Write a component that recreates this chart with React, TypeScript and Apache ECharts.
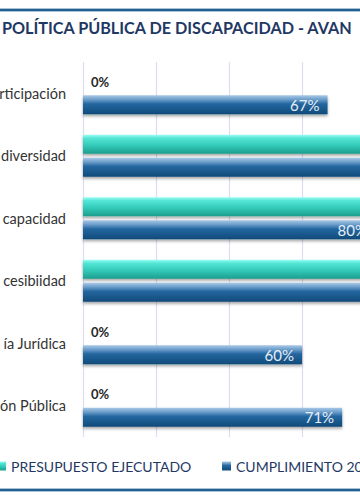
import React, { useEffect, useRef } from "react";
import * as echarts from "echarts";

const categories = ["rticipación", "diversidad", "capacidad", "cesibiidad", "ía Jurídica", "ón Pública"];
const presupuesto = [0, 95, 98, 92, 0, 0];
const cumplimiento = [67, 90, 80, 92, 60, 71];
const seriesNames = ["PRESUPUESTO EJECUTADO", "CUMPLIMIENTO 20"];
const titleText = "POLÍTICA PÚBLICA DE DISCAPACIDAD - AVAN";

const FONT = "Lato, 'Open Sans', sans-serif";
// labels beyond this value fall outside the visible frame (as in the reference crop)
const VISIBLE_LABEL_MAX = 80;

const tealGrad = new echarts.graphic.LinearGradient(0, 0, 0, 1, [
  { offset: 0, color: "#9ffff4" },
  { offset: 0.18, color: "#55e6d6" },
  { offset: 0.55, color: "#34cbb9" },
  { offset: 1, color: "#1c9e8e" },
]);
const blueGrad = new echarts.graphic.LinearGradient(0, 0, 0, 1, [
  { offset: 0, color: "#a8c8e6" },
  { offset: 0.22, color: "#6b9dca" },
  { offset: 0.45, color: "#2467a0" },
  { offset: 1, color: "#0f4a79" },
]);

const legendBase = {
  top: 459,
  padding: 0,
  itemWidth: 9,
  itemHeight: 9,
  icon: "rect",
  textStyle: { color: "#1f3864", fontSize: 14, fontFamily: FONT },
};

export default function App() {
  const ref = useRef<HTMLDivElement>(null);
  useEffect(() => {
    if (!ref.current) return;
    const chart = echarts.init(ref.current, undefined, { renderer: "svg" });
    const option: any = {
      animation: false,
      backgroundColor: "#ffffff",
      title: {
        text: titleText,
        left: 2,
        top: 19,
        padding: 0,
        textStyle: { color: "#1f3864", fontSize: 16.2, fontWeight: "bold", fontFamily: FONT },
      },
      legend: [
        { ...legendBase, data: [seriesNames[0]], left: -3 },
        { ...legendBase, data: [seriesNames[1]], left: 222 },
      ],
      grid: {
        left: 83,
        top: 62,
        width: 365,
        height: 375,
        containLabel: false,
        outerBoundsMode: "none",
      },
      xAxis: {
        type: "value",
        min: 0,
        max: 100,
        interval: 20,
        axisLabel: { show: false },
        axisLine: { show: false },
        axisTick: { show: false },
        splitLine: { show: true, lineStyle: { color: "#dedbf2", width: 1.2 } },
      },
      yAxis: {
        type: "category",
        data: categories,
        inverse: true,
        axisLine: { show: false },
        axisTick: { show: false },
        axisLabel: { margin: 17, color: "#333333", fontSize: 14.5, fontFamily: FONT },
      },
      series: [
        {
          name: seriesNames[0],
          type: "bar",
          barWidth: 19,
          barGap: "22%",
          itemStyle: {
            color: tealGrad,
            shadowColor: "rgba(0,0,0,0.35)",
            shadowBlur: 3,
            shadowOffsetY: 2,
          },
          data: presupuesto.map((v) => ({
            value: v,
            label:
              v === 0
                ? { show: true, position: "right", distance: 8, formatter: "{c}%", color: "#262626", fontWeight: "bold", fontSize: 13, fontFamily: FONT }
                : { show: v <= VISIBLE_LABEL_MAX, position: "insideRight", distance: 8, formatter: "{c}%", color: "#eef6f5", fontSize: 15, fontFamily: FONT },
          })),
        },
        {
          name: seriesNames[1],
          type: "bar",
          barWidth: 19,
          barGap: "22%",
          itemStyle: {
            color: blueGrad,
            shadowColor: "rgba(0,0,0,0.35)",
            shadowBlur: 3,
            shadowOffsetY: 2,
          },
          label: {
            show: true,
            position: "insideRight",
            distance: 8,
            formatter: "{c}%",
            color: "#e8eef6",
            fontSize: 15,
            fontFamily: FONT,
          },
          data: cumplimiento.map((v) => ({
            value: v,
            label: { show: v <= VISIBLE_LABEL_MAX },
          })),
        },
      ],
      graphic: [
        { type: "rect", shape: { x: 0, y: 8, width: 360, height: 4 }, style: { fill: "#a9c4da" }, silent: true },
        { type: "rect", shape: { x: 0, y: 9, width: 360, height: 2 }, style: { fill: "#245f8e" }, silent: true },
        { type: "rect", shape: { x: 0, y: 488, width: 360, height: 4 }, style: { fill: "#a9c4da" }, silent: true },
        { type: "rect", shape: { x: 0, y: 489, width: 360, height: 2 }, style: { fill: "#245f8e" }, silent: true },
      ],
    };
    chart.setOption(option);
    return () => chart.dispose();
  }, []);
  return (
    <div style={{ position: "fixed", left: 0, top: 0, width: 360, height: 504, overflow: "hidden", background: "#fff" }}>
      <div ref={ref} style={{ width: 360, height: 504 }} />
    </div>
  );
}
